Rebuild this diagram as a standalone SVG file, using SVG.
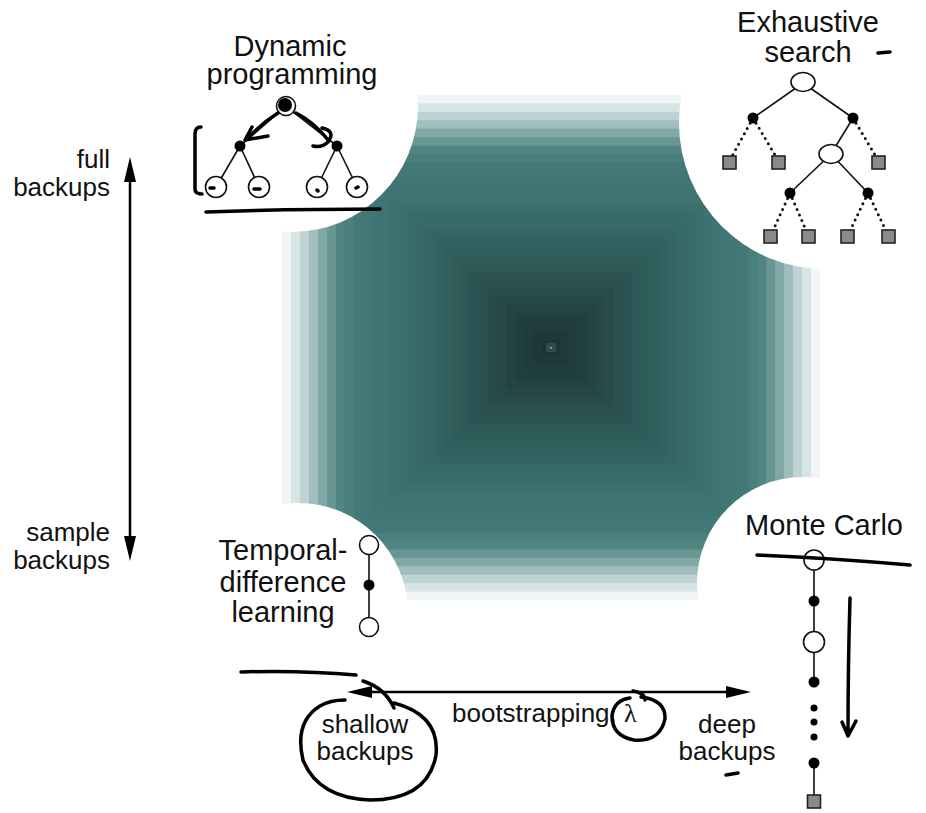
<svg xmlns="http://www.w3.org/2000/svg" width="926" height="813" viewBox="0 0 926 813">
<defs>
<style>
text{font-family:"Liberation Sans",Arial,sans-serif;fill:#111}
.lbl{font-size:29px;text-anchor:middle}
.ax{font-size:26px}
.edge{stroke:#111;stroke-width:1.6;fill:none}
.dot{stroke:#111;stroke-width:3;stroke-dasharray:0 6;stroke-linecap:round;fill:none}
.open{fill:#fff;stroke:#111;stroke-width:1.6}
.blk{fill:#000}
.sq{fill:#8a8a8a;stroke:#222;stroke-width:1.6}
.ink{stroke:#000;stroke-width:3.5;fill:none;stroke-linecap:round;stroke-linejoin:round}
.axis{stroke:#000;stroke-width:2.5;fill:none}
</style>
<marker id="ah" markerUnits="userSpaceOnUse" markerWidth="26" markerHeight="14" viewBox="0 0 26 14" refX="14" refY="7" orient="auto-start-reverse">
<path d="M0,1 L25,7 L0,13 z" fill="#000"/>
</marker>
</defs>
<rect width="926" height="813" fill="#fff"/>
<g id="gradient">
<rect x="282" y="95" width="538" height="505" fill="#f0f6f6"/>
<rect x="290.97" y="103.42" width="520.07" height="488.17" fill="#d7e5e5"/>
<rect x="299.93" y="111.83" width="502.13" height="471.33" fill="#bed4d3"/>
<rect x="308.9" y="120.25" width="484.2" height="454.5" fill="#a0bebd"/>
<rect x="317.87" y="128.67" width="466.27" height="437.67" fill="#82a8a6"/>
<rect x="326.83" y="137.08" width="448.33" height="420.83" fill="#699694"/>
<rect x="335.8" y="145.5" width="430.4" height="404" fill="#508583"/>
<rect x="344.77" y="153.92" width="412.47" height="387.17" fill="#497f7d"/>
<rect x="353.73" y="162.33" width="394.53" height="370.33" fill="#427977"/>
<rect x="362.7" y="170.75" width="376.6" height="353.5" fill="#417876"/>
<rect x="371.67" y="179.17" width="358.67" height="336.67" fill="#3f7674"/>
<rect x="380.63" y="187.58" width="340.73" height="319.83" fill="#3e7472"/>
<rect x="389.6" y="196" width="322.8" height="303" fill="#3c7270"/>
<rect x="398.57" y="204.42" width="304.87" height="286.17" fill="#3a6f6d"/>
<rect x="407.53" y="212.83" width="286.93" height="269.33" fill="#386c6a"/>
<rect x="416.5" y="221.25" width="269" height="252.5" fill="#376967"/>
<rect x="425.47" y="229.67" width="251.07" height="235.67" fill="#356664"/>
<rect x="434.43" y="238.08" width="233.13" height="218.83" fill="#336260"/>
<rect x="443.4" y="246.5" width="215.2" height="202" fill="#315f5d"/>
<rect x="452.37" y="254.92" width="197.27" height="185.17" fill="#305c5a"/>
<rect x="461.33" y="263.33" width="179.33" height="168.33" fill="#2e5857"/>
<rect x="470.3" y="271.75" width="161.4" height="151.5" fill="#2c5453"/>
<rect x="479.27" y="280.17" width="143.47" height="134.67" fill="#2a504f"/>
<rect x="488.23" y="288.58" width="125.53" height="117.83" fill="#284c4c"/>
<rect x="497.2" y="297" width="107.6" height="101" fill="#264848"/>
<rect x="506.17" y="305.42" width="89.67" height="84.17" fill="#244444"/>
<rect x="515.13" y="313.83" width="71.73" height="67.33" fill="#223f3f"/>
<rect x="524.1" y="322.25" width="53.8" height="50.5" fill="#213c3c"/>
<rect x="533.07" y="330.67" width="35.87" height="33.67" fill="#1f3838"/>
<rect x="542.03" y="339.08" width="17.93" height="16.83" fill="#1e3535"/>
<rect x="546" y="343" width="10" height="9" fill="#2d4d4d"/>
<rect x="550" y="347" width="2" height="1.5" fill="#8aa8a8"/>
<circle cx="292" cy="106" r="126" fill="#fff"/>
<circle cx="825" cy="123" r="146" fill="#fff"/>
<circle cx="298" cy="613" r="110" fill="#fff"/>
<circle cx="803" cy="583" r="106" fill="#fff"/>
</g>
<g id="connectors">
<line class="axis" x1="130" y1="168" x2="130" y2="550" marker-start="url(#ah)" marker-end="url(#ah)"/>
<line class="axis" x1="358" y1="692" x2="740" y2="692" marker-start="url(#ah)" marker-end="url(#ah)"/>
</g>
<g id="axis-full">
<text class="ax" x="110" y="168" text-anchor="end">full</text>
<text class="ax" x="110" y="196" text-anchor="end">backups</text>
</g>
<g id="axis-sample">
<text class="ax" x="110" y="541" text-anchor="end">sample</text>
<text class="ax" x="110" y="569" text-anchor="end">backups</text>
</g>
<g id="axis-shallow">
<text class="ax" x="365" y="733" text-anchor="middle">shallow</text>
<text class="ax" x="365" y="760" text-anchor="middle">backups</text>
</g>
<g id="axis-deep">
<text class="ax" x="727" y="733" text-anchor="middle">deep</text>
<text class="ax" x="727" y="760" text-anchor="middle">backups</text>
</g>
<g id="axis-bootstrapping">
<text class="ax" x="452" y="722">bootstrapping, <tspan font-family="'Liberation Serif',serif">λ</tspan></text>
</g>
<g id="dynamic-programming">
<text class="lbl" x="290" y="56">Dynamic</text>
<text class="lbl" x="292" y="84">programming</text>
<line class="edge" x1="285" y1="107" x2="240" y2="146"/>
<line class="edge" x1="287" y1="107" x2="337" y2="146"/>
<line class="edge" x1="240" y1="146" x2="216" y2="187"/>
<line class="edge" x1="240" y1="146" x2="259" y2="187"/>
<line class="edge" x1="337" y1="146" x2="317" y2="187"/>
<line class="edge" x1="337" y1="146" x2="357" y2="187"/>
<circle class="open" cx="286" cy="106" r="9.5"/>
<circle class="blk" cx="285" cy="105" r="7"/>
<circle class="blk" cx="240" cy="146" r="5.5"/>
<circle class="blk" cx="337" cy="146" r="5.5"/>
<circle class="open" cx="216" cy="187" r="10.5"/>
<circle class="open" cx="259" cy="187" r="10.5"/>
<circle class="open" cx="317" cy="187" r="10.5"/>
<circle class="open" cx="357" cy="187" r="10.5"/>
</g>
<g id="exhaustive-search">
<text class="lbl" x="808" y="32">Exhaustive</text>
<text class="lbl" x="808" y="62">search</text>
<line class="edge" x1="803" y1="83" x2="753" y2="118"/>
<line class="edge" x1="803" y1="83" x2="853" y2="118"/>
<line class="edge" x1="853" y1="118" x2="831" y2="154"/>
<line class="edge" x1="831" y1="154" x2="790" y2="193"/>
<line class="edge" x1="831" y1="154" x2="868" y2="193"/>
<path class="dot" d="M753,118 L730,160 M753,118 L778,160 M853,118 L878,160 M790,193 L771,235 M790,193 L808,235 M868,193 L848,235 M868,193 L888,235"/>
<ellipse class="open" cx="803" cy="82" rx="12" ry="9.5"/>
<ellipse class="open" cx="831" cy="154" rx="12" ry="9.5"/>
<circle class="blk" cx="753" cy="118" r="5.5"/>
<circle class="blk" cx="853" cy="118" r="5.5"/>
<circle class="blk" cx="790" cy="193" r="5.5"/>
<circle class="blk" cx="868" cy="193" r="5.5"/>
<rect class="sq" x="723" y="156" width="13" height="13"/>
<rect class="sq" x="772" y="156" width="13" height="13"/>
<rect class="sq" x="872" y="156" width="13" height="13"/>
<rect class="sq" x="764" y="230" width="13" height="13"/>
<rect class="sq" x="802" y="230" width="13" height="13"/>
<rect class="sq" x="841" y="230" width="13" height="13"/>
<rect class="sq" x="882" y="230" width="13" height="13"/>
</g>
<g id="temporal-difference">
<text class="lbl" x="283" y="560">Temporal-</text>
<text class="lbl" x="283" y="592">difference</text>
<text class="lbl" x="283" y="622">learning</text>
<line class="edge" x1="369" y1="545" x2="369" y2="627"/>
<circle class="open" cx="369" cy="545" r="9.5"/>
<circle class="blk" cx="369" cy="585" r="5.5"/>
<circle class="open" cx="369" cy="627" r="9.5"/>
</g>
<g id="monte-carlo">
<text class="lbl" x="824" y="535">Monte Carlo</text>
<line class="edge" x1="814" y1="560" x2="814" y2="682"/>
<line class="edge" x1="814" y1="763" x2="814" y2="800"/>
<circle class="open" cx="814" cy="560" r="10"/>
<circle class="blk" cx="814" cy="601" r="5.5"/>
<circle class="open" cx="814" cy="642" r="10.5"/>
<circle class="blk" cx="814" cy="682" r="5.5"/>
<circle class="blk" cx="814" cy="708" r="3.5"/>
<circle class="blk" cx="814" cy="722" r="3.5"/>
<circle class="blk" cx="814" cy="737" r="3.5"/>
<circle class="blk" cx="814" cy="763" r="5.5"/>
<rect class="sq" x="807.5" y="795" width="13" height="13"/>
</g>
<g id="annotations">
<path class="ink" d="M278,113 Q262,123 247,139"/>
<path class="ink" d="M252,127 L245,140 L268,136"/>
<path class="ink" d="M296,113 Q314,122 329,141"/>
<path class="ink" d="M322,128 Q336,131 328,142 Q322,148 313,146"/>
<path class="ink" d="M201,127 Q195,127 195,134 L195,189 Q195,194 202,194"/>
<path class="ink" stroke-width="4" d="M206,212 Q290,209 380,209"/>
<path class="ink" stroke-width="2.5" d="M210,188 L214,188 M254,189 L260,189 M317,190 L318,191 M356,188 L358,187"/>
<path class="ink" stroke-width="3" d="M878,53 L890,52"/>
<path class="ink" d="M757,555 Q830,558 910,565"/>
<path class="ink" stroke-width="3" d="M850,598 Q848,665 848,735 M842,722 L848,736 L856,721"/>
<path class="ink" d="M241,672 Q300,670 356,675"/>
<path class="ink" stroke-width="3" d="M363,681 Q385,688 394,708"/>
<path class="ink" stroke-width="3" d="M394,703 Q440,715 436,755 Q428,800 370,800 Q318,798 303,760 Q294,722 320,706 Q330,700 345,700"/>
<path class="ink" stroke-width="3" d="M633,691 Q645,693 645,700 M641,697 Q666,700 665,719 Q660,742 634,740 Q612,736 612,716 Q614,700 630,698"/>
<path class="ink" stroke-width="3" d="M726,775 L738,773"/>
</g>
</svg>
